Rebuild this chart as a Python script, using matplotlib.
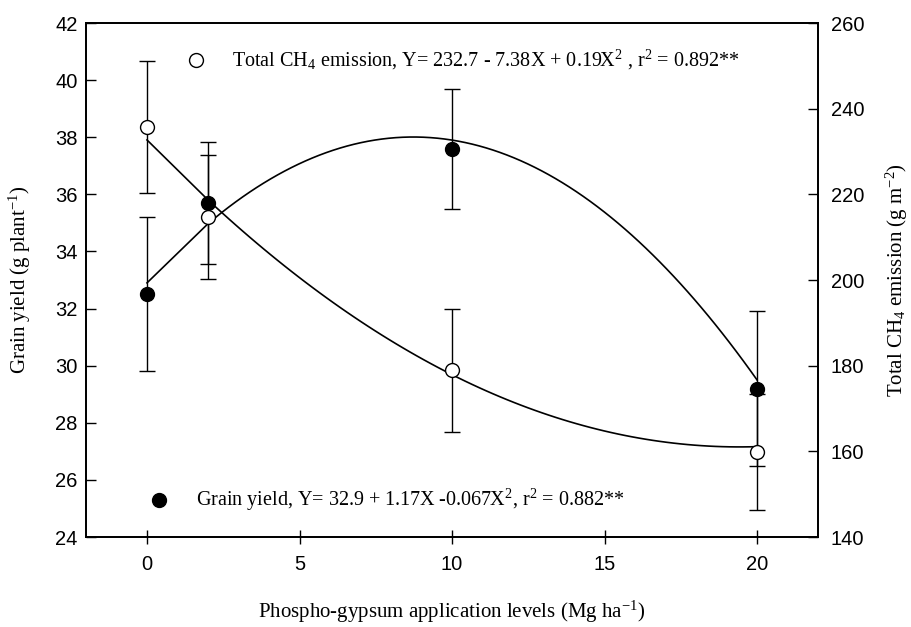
import matplotlib
matplotlib.use("Agg")
import matplotlib.pyplot as plt
import numpy as np

plt.rcParams['mathtext.fontset'] = 'custom'
plt.rcParams['mathtext.rm'] = 'Liberation Serif'
plt.rcParams['mathtext.it'] = 'Liberation Serif:italic'

# phospho-gypsum levels (Mg/ha)
levels = [0, 2, 10, 20]

# grain yield (g/plant), left axis
grain = [32.5, 35.7, 37.6, 29.2]
grain_err = [2.7, 2.15, 2.1, 2.7]
grain_coef = [32.9, 1.17, -0.067]

# total CH4 emission (g/m2), right axis
ch4 = [235.8, 214.7, 178.9, 159.8]
ch4_err = [15.4, 14.5, 14.3, 13.5]
ch4_coef = [232.7, -7.38, 0.19]

xticks = [0, 5, 10, 15, 20]
yticks_left = [24, 26, 28, 30, 32, 34, 36, 38, 40, 42]
yticks_right = [140, 160, 180, 200, 220, 240, 260]

serif = 'Liberation Serif'
sans = 'Liberation Sans'

fig = plt.figure(figsize=(9.11, 6.27), dpi=100)
ax = fig.add_axes([0.0944, 0.1435, 0.8036, 0.8198])
ax2 = ax.twinx()

# fitted curves
xs = np.concatenate([[0], np.linspace(2, 20, 80)])
ax.plot(xs, np.polyval(grain_coef[::-1], xs), color='black', lw=1.2, zorder=2)
ax2.plot(xs, np.polyval(ch4_coef[::-1], xs), color='black', lw=1.2, zorder=2)

ax.errorbar(levels, grain, yerr=grain_err, fmt='o', color='black', mfc='black',
            ms=10, capsize=6, elinewidth=1.0, capthick=1.0, zorder=3)
ax2.errorbar(levels, ch4, yerr=ch4_err, fmt='o', color='black', mfc='white',
             ms=10, capsize=6, elinewidth=1.0, capthick=1.0, zorder=3)

ax.set_xlim(-2, 22)
ax.set_ylim(24, 42)
ax2.set_ylim(140, 260)
ax.set_xticks(xticks)
ax.set_yticks(yticks_left)
ax2.set_yticks(yticks_right)

for a in (ax, ax2):
    for s in a.spines.values():
        s.set_linewidth(1.3)
    for lab in a.get_xticklabels() + a.get_yticklabels():
        lab.set_fontfamily(sans)
        lab.set_fontsize(14.5)
ax.tick_params(axis='x', direction='inout', length=10, width=1.0, pad=8)
ax.tick_params(axis='y', direction='in', length=7, width=1.0, pad=6)
ax2.tick_params(axis='y', direction='in', length=7, width=1.0, pad=9)

ax.set_xlabel('Phospho-gypsum application levels (Mg ha$^{-1}$)', fontfamily=serif,
              fontsize=15, labelpad=18)
ax.set_ylabel('Grain yield (g plant$^{-1}$)', fontfamily=serif, fontsize=15, labelpad=16)
ax2.set_ylabel('Total CH$_4$ emission (g m$^{-2}$)', fontfamily=serif, fontsize=15,
               labelpad=14)

# legend-like annotations
ax.plot([1.6], [40.7], 'o', ms=10, mfc='white', mec='black', clip_on=False)
ax.text(2.8, 40.7, 'Total CH$_4$ emission, Y= 232.7 - 7.38X + 0.19X$^2$ , r$^2$ = 0.892**',
        fontfamily=serif, fontsize=14.5, va='center')
ax.plot([0.4], [25.3], 'o', ms=10, color='black')
ax.text(1.6, 25.3, 'Grain yield, Y= 32.9 + 1.17X -0.067X$^2$, r$^2$ = 0.882**',
        fontfamily=serif, fontsize=14.5, va='center')

fig.savefig('out.png', dpi=100)
